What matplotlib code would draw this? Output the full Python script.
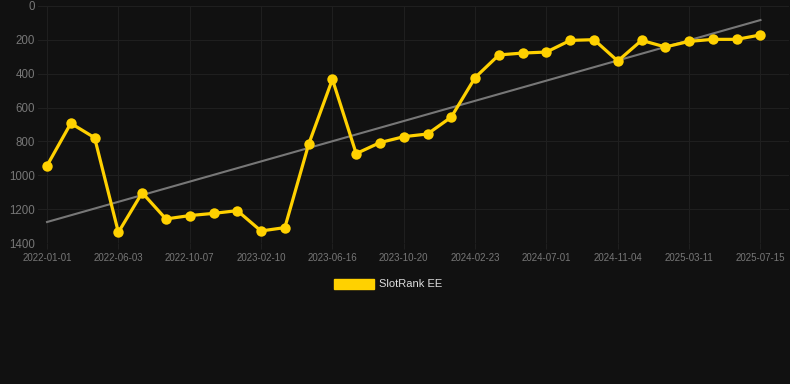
import matplotlib
matplotlib.use("Agg")
import matplotlib.pyplot as plt
from matplotlib.patches import Patch
import numpy as np

plt.rcParams['font.family'] = ['Liberation Sans', 'DejaVu Sans']

tick_labels = ["2022-01-01", "2022-06-03", "2022-10-07", "2023-02-10", "2023-06-16",
               "2023-10-20", "2024-02-23", "2024-07-01", "2024-11-04", "2025-03-11",
               "2025-07-15"]
ranks = [943, 693, 778, 1337, 1103, 1258, 1238, 1225, 1209, 1329, 1309,
         817, 433, 872, 807, 772, 756, 656, 423, 289, 278, 272, 203, 199,
         325, 203, 242, 209, 197, 197, 171]
trend_ends = [1276, 83]
series_name = "SlotRank EE"

bg = "#111111"
gold = "#FFD100"

fig = plt.figure(figsize=(7.9, 3.84), dpi=100, facecolor=bg)
ax = fig.add_axes([38/790, 1-243/384, 751/790, 237/384], facecolor=bg)

x = np.arange(len(ranks))
ax.plot([x[0], x[-1]], trend_ends, color="#777777", lw=1.5, zorder=2)
ax.plot(x, ranks, color=gold, lw=2.3, marker="o", markersize=7.5,
        markeredgewidth=0, zorder=3)

ax.set_ylim(1400, 0)
ax.set_yticks(range(0, 1401, 200))
ax.set_xlim(-0.38, 31.2)
ax.set_xticks(x[::3])
ax.set_xticklabels(tick_labels)

ax.grid(True, color="#1f1f1f", lw=0.8)
ax.set_axisbelow(True)
for s in ax.spines.values():
    s.set_visible(False)
ax.tick_params(axis="x", colors="#777777", labelsize=7, length=4, color="#1f1f1f", pad=3)
ax.tick_params(axis="y", colors="#777777", labelsize=8.3, length=0, pad=2)

handle = Patch(facecolor=gold, edgecolor=gold)
leg = fig.legend([handle], [series_name], loc="center", bbox_to_anchor=(388/790, 1-284/384),
                 frameon=False, fontsize=8, handlelength=3.6, handleheight=1.0,
                 handletextpad=0.5, labelcolor="#dddddd")

fig.savefig("out.png", dpi=100, facecolor=bg)
